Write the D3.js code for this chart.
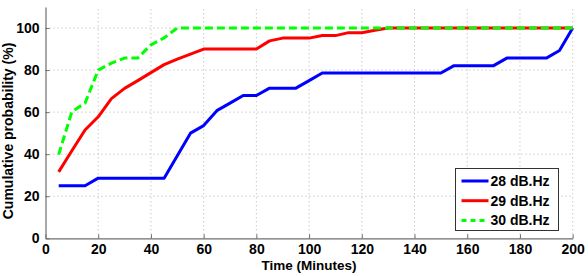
<!DOCTYPE html>
<html>
<head>
<meta charset="utf-8">
<script src="https://cdn.jsdelivr.net/npm/d3@7"></script>
<style>
  body { margin: 0; background: #fff; }
  svg text { font-family: "Liberation Sans", Arial, sans-serif; font-weight: bold; }
</style>
</head>
<body>
<svg id="chart" width="588" height="276"></svg>
<script>
// time axis (minutes), one sample every 5 minutes
const minutes = [5,10,15,20,25,30,35,40,45,50,55,60,65,70,75,80,85,90,95,100,
  105,110,115,120,125,130,135,140,145,150,155,160,165,170,175,180,185,190,195,200];

const cn28 = [25,25,25,28.6,28.6,28.6,28.6,28.6,28.6,39.3,50,53.6,60.7,64.3,67.9,67.9,71.4,71.4,71.4,75,
  78.6,78.6,78.6,78.6,78.6,78.6,78.6,78.6,78.6,78.6,82.1,82.1,82.1,82.1,85.7,85.7,85.7,85.7,89.3,100];
const cn29 = [31.6,41.6,51.5,57.8,66.4,71.3,75,78.8,82.6,85.2,87.6,90,90,90,90,90,93.9,95.2,95.2,95.2,
  96.4,96.4,97.8,97.8,98.9,100,100,100,100,100,100,100,100,100,100,100,100,100,100,100];
const cn30 = [39.8,60.2,64.3,80,83.3,85.7,85.7,92,95.3,100,100,100,100,100,100,100,100,100,100,100,
  100,100,100,100,100,100,100,100,100,100,100,100,100,100,100,100,100,100,100,100];

const seriesNames = ["28 dB.Hz", "29 dB.Hz", "30 dB.Hz"];
const xTicks = [0,20,40,60,80,100,120,140,160,180,200];
const yTicks = [0,20,40,60,80,100];

const series = [
  { name: seriesNames[0], values: cn28, color: "#0000ff", dash: null },
  { name: seriesNames[1], values: cn29, color: "#ff0000", dash: null },
  { name: seriesNames[2], values: cn30, color: "#00ff00", dash: "8,4" }
];

const W = 588, H = 276;
const margin = { left: 45.5, right: 15.3, top: 7, bottom: 37.7 };

const svg = d3.select("#chart");

const x = d3.scaleLinear().domain([0, 200]).range([margin.left, W - margin.right]);
const y = d3.scaleLinear().domain([0, 110]).range([H - margin.bottom, margin.top]);

// dotted grid
const grid = svg.append("g").attr("stroke", "#b4b4b4").attr("stroke-width", 1)
  .attr("stroke-dasharray", "1,3");
grid.selectAll("line.gx").data(xTicks.slice(1)).enter().append("line")
  .attr("x1", d => x(d)).attr("x2", d => x(d))
  .attr("y1", y(0)).attr("y2", y(110));
grid.selectAll("line.gy").data(yTicks.slice(1)).enter().append("line")
  .attr("x1", x(0)).attr("x2", x(200))
  .attr("y1", d => y(d)).attr("y2", d => y(d));

// axes
const xAxis = d3.axisBottom(x).tickValues(xTicks).tickSizeInner(-4).tickSizeOuter(0).tickPadding(8);
const yAxis = d3.axisLeft(y).tickValues(yTicks).tickSizeInner(-4).tickSizeOuter(0).tickPadding(8);

const gx = svg.append("g").attr("transform", `translate(0,${y(0)})`).call(xAxis);
const gy = svg.append("g").attr("transform", `translate(${x(0)},0)`).call(yAxis);
[gx, gy].forEach(g => {
  g.select(".domain").attr("stroke", "#6e6e6e").attr("stroke-width", 1.2);
  g.selectAll(".tick line").attr("stroke", "#6e6e6e");
  g.selectAll(".tick text").attr("font-size", 14).attr("fill", "#000")
    .style("font-family", "'Liberation Sans', Arial, sans-serif").style("font-weight", "bold");
});
gx.selectAll(".tick text").attr("dy", "0.52em");
gy.selectAll(".tick text").attr("dx", "2");

// lines
const line = d3.line().x((d, i) => x(minutes[i])).y(d => y(d));
svg.append("g").selectAll("path").data(series).enter().append("path")
  .attr("d", d => line(d.values))
  .attr("fill", "none")
  .attr("stroke", d => d.color)
  .attr("stroke-width", 3)
  .attr("stroke-linejoin", "round")
  .attr("stroke-dasharray", d => d.dash);

// labels
svg.append("text").attr("x", x(100)).attr("y", 270).attr("text-anchor", "middle")
  .attr("font-size", 13.5).text("Time (Minutes)");
svg.append("text").attr("transform", "translate(13,131) rotate(-90)").attr("text-anchor", "middle")
  .attr("font-size", 14).text("Cumulative probability (%)");

// legend
const lg = svg.append("g").attr("transform", "translate(455.5,168.5)");
lg.append("rect").attr("width", 103).attr("height", 62)
  .attr("fill", "#fff").attr("stroke", "#333").attr("stroke-width", 1);
const items = lg.selectAll("g.item").data(series).enter().append("g")
  .attr("transform", (d, i) => `translate(0,${12.5 + i * 19.7})`);
items.append("line").attr("x1", 6).attr("x2", 33).attr("y1", 0).attr("y2", 0)
  .attr("stroke", d => d.color).attr("stroke-width", 3)
  .attr("stroke-dasharray", d => d.dash ? "5,4" : null);
items.append("text").attr("x", 35).attr("y", 0).attr("dy", "0.35em")
  .attr("font-size", 14).text(d => d.name);
</script>
</body>
</html>
